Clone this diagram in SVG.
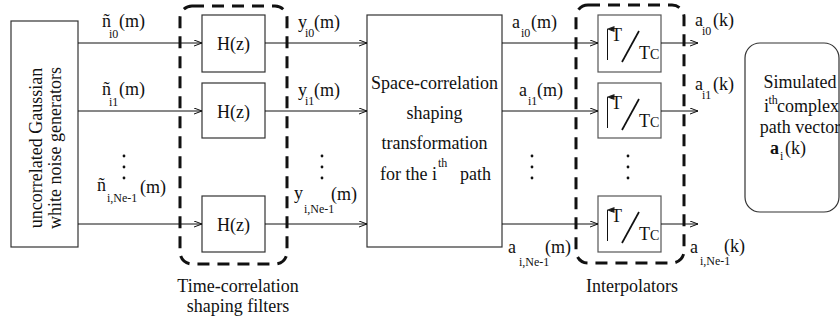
<svg xmlns="http://www.w3.org/2000/svg" width="840" height="323" viewBox="0 0 840 323">
<defs>
<marker id="arr" markerWidth="10" markerHeight="8" refX="9" refY="3.5" orient="auto" markerUnits="userSpaceOnUse">
<path d="M1,0.5 L9,3.5 L1,6.5" fill="none" stroke="#111" stroke-width="1"/>
</marker>
<marker id="up" markerWidth="6" markerHeight="8" refX="3" refY="1" orient="auto" markerUnits="userSpaceOnUse">
<path d="M0,8 L3,0 L6,8 Z" fill="#222"/>
</marker>
<style>
text{font-family:"Liberation Serif","Times New Roman",serif;font-size:18px;fill:#111}
.sub{font-size:12px}
.c{text-anchor:middle}
.box{fill:#fff;stroke:#333;stroke-width:1.2}
.ibox{fill:#fff;stroke:#555;stroke-width:1.2}
.dash{fill:none;stroke:#111;stroke-width:3;stroke-dasharray:12 8}
.ln{fill:none;stroke:#111;stroke-width:1}
.sl{fill:none;stroke:#111;stroke-width:1.7}
.dot{fill:#111}
</style>
</defs>

<g id="gen">
<rect class="box" x="11" y="21" width="67" height="226"/>
<text class="c" transform="rotate(-90)" x="-148" y="42">uncorrelated Gaussian</text>
<text class="c" transform="rotate(-90)" x="-148" y="61">white noise generators</text>
</g>

<g id="timefilters">
<rect class="dash" x="180" y="6" width="107" height="258" rx="12"/>
<text class="c" x="238" y="292">Time-correlation</text>
<text class="c" x="238" y="312">shaping filters</text>
</g>
<g id="h0"><rect class="box" x="202" y="15" width="63" height="57"/><text class="c" x="233.5" y="50">H(z)</text></g>
<g id="h1"><rect class="box" x="202" y="83" width="63" height="55"/><text class="c" x="233.5" y="118">H(z)</text></g>
<g id="h2"><rect class="box" x="202" y="196" width="63" height="56"/><text class="c" x="233.5" y="231">H(z)</text></g>

<g id="space">
<rect class="box" x="367" y="15" width="135" height="232"/>
<text class="c" x="434.5" y="89">Space-correlation</text>
<text class="c" x="434.5" y="119">shaping</text>
<text class="c" x="434.5" y="149">transformation</text>
<text x="380" y="180">for the i<tspan class="sub" x="438" y="167">th</tspan><tspan x="460" y="180">path</tspan></text>
</g>

<g id="interp">
<rect class="dash" x="576" y="5" width="108" height="258" rx="12"/>
<text class="c" x="632" y="292">Interpolators</text>
</g>
<g id="i0">
<rect class="ibox" x="598" y="15" width="63" height="57"/>
<line class="ln" x1="607.5" y1="60" x2="607.5" y2="29" marker-end="url(#up)"/>
<text x="611" y="41">T</text>
<line class="sl" x1="622" y1="62" x2="639" y2="31"/>
<text x="639" y="59">T<tspan style="font-size:14px">C</tspan></text>
</g>
<g id="i1">
<rect class="ibox" x="598" y="83" width="63" height="55"/>
<line class="ln" x1="607.5" y1="128" x2="607.5" y2="97" marker-end="url(#up)"/>
<text x="611" y="109">T</text>
<line class="sl" x1="622" y1="130" x2="639" y2="99"/>
<text x="639" y="127">T<tspan style="font-size:14px">C</tspan></text>
</g>
<g id="i2">
<rect class="ibox" x="598" y="196" width="63" height="56"/>
<line class="ln" x1="607.5" y1="241" x2="607.5" y2="210" marker-end="url(#up)"/>
<text x="611" y="222">T</text>
<line class="sl" x1="622" y1="243" x2="639" y2="212"/>
<text x="639" y="240">T<tspan style="font-size:14px">C</tspan></text>
</g>

<g id="out">
<rect class="box" x="745" y="43" width="94" height="169" rx="15"/>
<text class="c" x="800" y="88">Simulated</text>
<text x="764" y="112">i<tspan class="sub" x="768.5" y="104">th</tspan><tspan x="777" y="112">complex</tspan></text>
<text class="c" x="800" y="133">path vector</text>
<text x="770" y="154"><tspan font-weight="bold">a</tspan><tspan class="sub" x="780" y="160">i</tspan><tspan x="785" y="154">(k)</tspan></text>
</g>

<g id="connectors">
<line class="ln" x1="78" y1="43" x2="202" y2="43" marker-end="url(#arr)"/>
<line class="ln" x1="78" y1="111" x2="202" y2="111" marker-end="url(#arr)"/>
<line class="ln" x1="78" y1="224" x2="202" y2="224" marker-end="url(#arr)"/>
<line class="ln" x1="265" y1="43" x2="367" y2="43" marker-end="url(#arr)"/>
<line class="ln" x1="265" y1="111" x2="367" y2="111" marker-end="url(#arr)"/>
<line class="ln" x1="265" y1="224" x2="367" y2="224" marker-end="url(#arr)"/>
<line class="ln" x1="502" y1="43" x2="598" y2="43" marker-end="url(#arr)"/>
<line class="ln" x1="502" y1="111" x2="598" y2="111" marker-end="url(#arr)"/>
<line class="ln" x1="502" y1="224" x2="598" y2="224" marker-end="url(#arr)"/>
<line class="ln" x1="661" y1="43" x2="698" y2="43" marker-end="url(#arr)"/>
<line class="ln" x1="661" y1="111" x2="698" y2="111" marker-end="url(#arr)"/>
<line class="ln" x1="661" y1="224" x2="698" y2="224" marker-end="url(#arr)"/>
</g>

<g id="labels">
<text x="102" y="27">ñ<tspan class="sub" x="109" y="38">i0</tspan><tspan x="119" y="27">(m)</tspan></text>
<text x="102" y="95">ñ<tspan class="sub" x="109" y="106">i1</tspan><tspan x="119" y="95">(m)</tspan></text>
<text x="97" y="191">ñ<tspan class="sub" x="107" y="202">i,Ne-1</tspan><tspan x="140" y="193">(m)</tspan></text>

<text x="298" y="28">y<tspan class="sub" x="305" y="37">i0</tspan><tspan x="314" y="28">(m)</tspan></text>
<text x="298" y="96">y<tspan class="sub" x="305" y="105">i1</tspan><tspan x="314" y="96">(m)</tspan></text>
<text x="294" y="199">y<tspan class="sub" x="304" y="213">i,Ne-1</tspan><tspan x="331" y="200">(m)</tspan></text>

<text x="512" y="28">a<tspan class="sub" x="521" y="37">i0</tspan><tspan x="531" y="28">(m)</tspan></text>
<text x="519" y="96">a<tspan class="sub" x="528" y="105">i1</tspan><tspan x="537" y="96">(m)</tspan></text>
<text x="508" y="253">a<tspan class="sub" x="519" y="266">i,Ne-1</tspan><tspan x="545" y="253">(m)</tspan></text>

<text x="695" y="26">a<tspan class="sub" x="702" y="35">i0</tspan><tspan x="713" y="26">(k)</tspan></text>
<text x="695" y="90">a<tspan class="sub" x="702" y="99">i1</tspan><tspan x="713" y="90">(k)</tspan></text>
<text x="690" y="253">a<tspan class="sub" x="700" y="265">i,Ne-1</tspan><tspan x="724" y="252">(k)</tspan></text>
</g>

<g id="dots">
<circle class="dot" cx="124" cy="156" r="1.4"/><circle class="dot" cx="124" cy="167" r="1.4"/><circle class="dot" cx="124" cy="178" r="1.4"/>
<circle class="dot" cx="322" cy="156" r="1.4"/><circle class="dot" cx="322" cy="167" r="1.4"/><circle class="dot" cx="322" cy="178" r="1.4"/>
<circle class="dot" cx="532" cy="156" r="1.4"/><circle class="dot" cx="532" cy="167" r="1.4"/><circle class="dot" cx="532" cy="178" r="1.4"/>
<circle class="dot" cx="628" cy="156" r="1.4"/><circle class="dot" cx="628" cy="167" r="1.4"/><circle class="dot" cx="628" cy="178" r="1.4"/>
</g>
</svg>
